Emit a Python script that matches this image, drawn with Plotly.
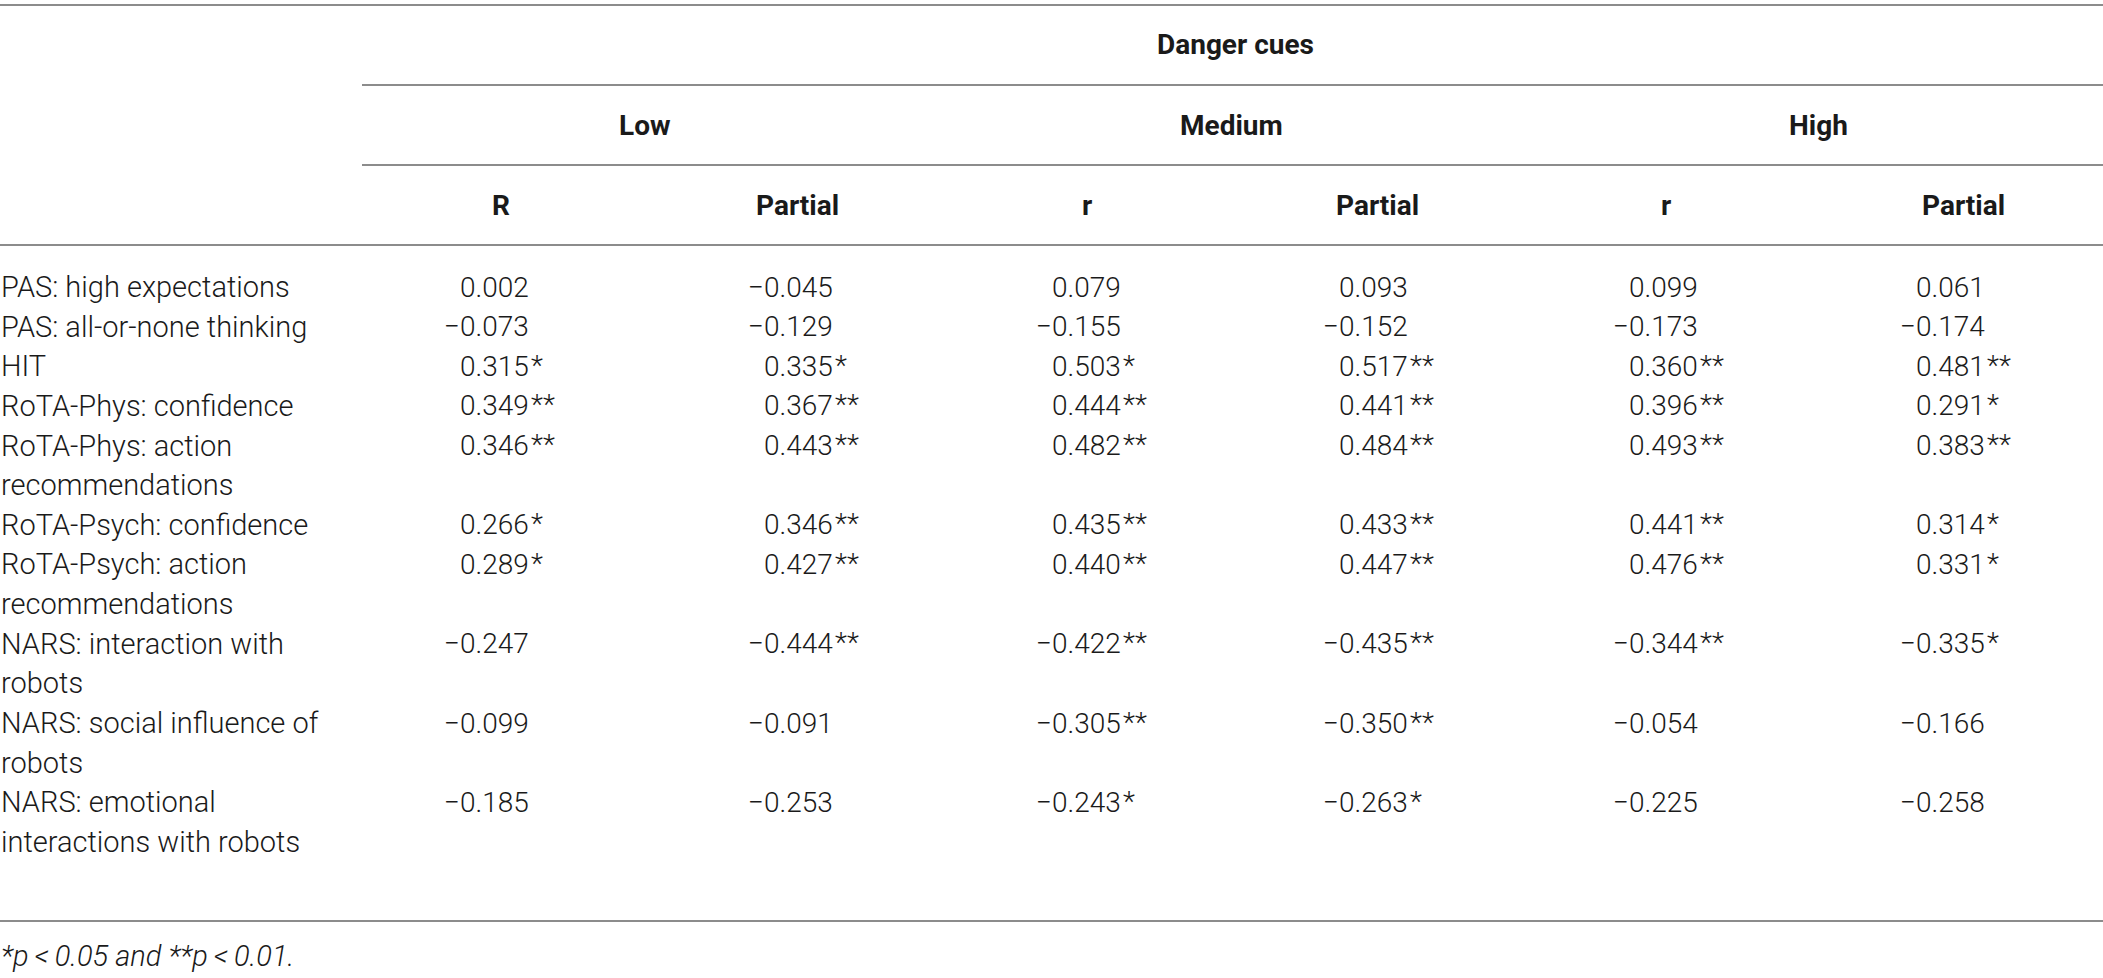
import plotly.graph_objects as go

# ---------------- data ----------------
spanner_label = "Danger cues"
group_labels = ["Low", "Medium", "High"]
sub_labels = ["R", "Partial", "r", "Partial", "r", "Partial"]

row_labels = [
    "PAS: high expectations",
    "PAS: all-or-none thinking",
    "HIT",
    "RoTA-Phys: confidence",
    "RoTA-Phys: action<br>recommendations",
    "RoTA-Psych: confidence",
    "RoTA-Psych: action<br>recommendations",
    "NARS: interaction with<br>robots",
    "NARS: social influence of<br>robots",
    "NARS: emotional<br>interactions with robots",
]

low_r = [0.002, -0.073, 0.315, 0.349, 0.346, 0.266, 0.289, -0.247, -0.099, -0.185]
low_r_sig = ["", "", "*", "**", "**", "*", "*", "", "", ""]
low_partial = [-0.045, -0.129, 0.335, 0.367, 0.443, 0.346, 0.427, -0.444, -0.091, -0.253]
low_partial_sig = ["", "", "*", "**", "**", "**", "**", "**", "", ""]
med_r = [0.079, -0.155, 0.503, 0.444, 0.482, 0.435, 0.440, -0.422, -0.305, -0.243]
med_r_sig = ["", "", "*", "**", "**", "**", "**", "**", "**", "*"]
med_partial = [0.093, -0.152, 0.517, 0.441, 0.484, 0.433, 0.447, -0.435, -0.350, -0.263]
med_partial_sig = ["", "", "**", "**", "**", "**", "**", "**", "**", "*"]
high_r = [0.099, -0.173, 0.360, 0.396, 0.493, 0.441, 0.476, -0.344, -0.054, -0.225]
high_r_sig = ["", "", "**", "**", "**", "**", "**", "**", "", ""]
high_partial = [0.061, -0.174, 0.481, 0.291, 0.383, 0.314, 0.331, -0.335, -0.166, -0.258]
high_partial_sig = ["", "", "**", "*", "**", "*", "*", "*", "", ""]

footnote = "*p\u2009&lt;\u20090.05 and **p\u2009&lt;\u20090.01."

# ---------------- layout constants ----------------
W, H = 2103, 978
FONT = "Roboto, Liberation Sans, Arial, sans-serif"
FS = 28
FS_LABEL = 29
TXT = "#1a1a1a"
RULE = "#8c8c8c"

col_num_right = [530, 834, 1122, 1409, 1699, 1986]   # right edge of digits (decimal alignment)
sub_x = [501, 797, 1087, 1377, 1666, 1963]
group_x = [645, 1231, 1818]
spanner_x = 1235
y_spanner, y_group, y_sub = 44, 125, 205
rule_rows = [(5, 0), (85, 362), (165, 362), (245, 0), (921, 0)]
first_line_y = 287
line_h = 39.64
footnote_y = 956

columns = [
    (low_r, low_r_sig), (low_partial, low_partial_sig),
    (med_r, med_r_sig), (med_partial, med_partial_sig),
    (high_r, high_r_sig), (high_partial, high_partial_sig),
]


def fmt(v):
    return f"{v:.3f}".replace("-", "\u2212")


fig = go.Figure()
fig.add_trace(go.Scatter(x=[0, W], y=[0, H], mode="markers",
                         marker=dict(opacity=0), hoverinfo="skip", showlegend=False))

ann = []


def text(x, y, s, anchor="center", bold=False, italic=False, size=FS):
    if italic:
        s = f"<i>{s}</i>"
    ann.append(dict(x=x, y=y, xref="x", yref="y", text=s, showarrow=False,
                    xanchor=anchor, yanchor="middle", borderpad=0,
                    font=dict(family=FONT, size=size, color=TXT,
                              weight=700 if bold else 300)))


# header
text(spanner_x, y_spanner, spanner_label, bold=True)
for gx, g in zip(group_x, group_labels):
    text(gx, y_group, g, bold=True)
for sx, s in zip(sub_x, sub_labels):
    text(sx, y_sub, s, bold=True)

# body
line = 0
for i, lab in enumerate(row_labels):
    parts = lab.split("<br>")
    y0 = first_line_y + line * line_h
    for k, p in enumerate(parts):
        text(0, first_line_y + (line + k) * line_h, p, anchor="left", size=FS_LABEL)
    for cx, (vals, sigs) in zip(col_num_right, columns):
        text(cx, y0, fmt(vals[i]), anchor="right")
        if sigs[i]:
            text(cx, y0 - 1, sigs[i], anchor="left")
    line += len(parts)

# footnote
text(0, footnote_y, footnote, anchor="left", italic=True, size=FS_LABEL)

shapes = []
for ry, rx0 in rule_rows:
    shapes.append(dict(type="line", xref="x", yref="y", x0=rx0, x1=W, y0=ry, y1=ry,
                       line=dict(color=RULE, width=2)))

fig.update_layout(
    width=W, height=H, margin=dict(l=0, r=0, t=0, b=0),
    paper_bgcolor="white", plot_bgcolor="white",
    xaxis=dict(range=[0, W], visible=False, fixedrange=True),
    yaxis=dict(range=[H, 0], visible=False, fixedrange=True),
    annotations=ann, shapes=shapes, showlegend=False,
)

fig.write_html("out.html", config={"displayModeBar": False},
               post_script="document.body.style.margin='0';document.body.style.overflow='hidden';")
